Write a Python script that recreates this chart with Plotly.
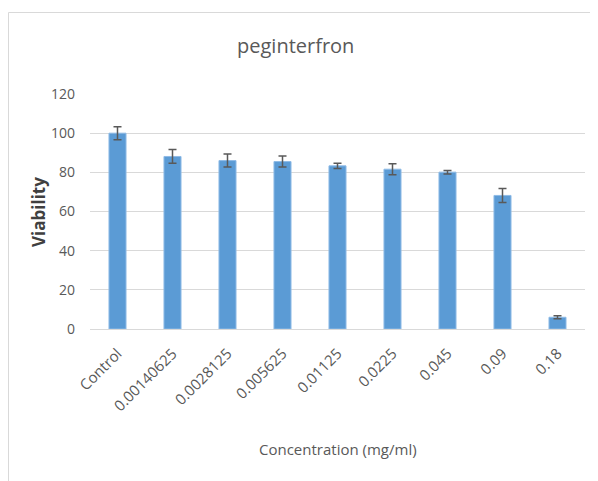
import plotly.graph_objects as go

categories = ["Control", "0.00140625", "0.0028125", "0.005625", "0.01125",
              "0.0225", "0.045", "0.09", "0.18"]
viability = [100.0, 88.1, 86.0, 85.5, 83.3, 81.6, 80.1, 68.2, 6.0]
errors = [3.3, 3.5, 3.3, 2.8, 1.4, 2.8, 0.9, 3.6, 0.8]
y_ticks = [0, 20, 40, 60, 80, 100, 120]

# page body has an 8px margin; figure drawn so it lands where the reference is
OFF = 8
W, H = 598 - OFF, 481 - OFF
L, R, T, B = 90 - OFF, 13, 94 - OFF, 152
pw, ph = W - L - R, H - T - B

def px(x):
    return (x - OFF - L) / pw

def py(y):
    return (H - B - (y - OFF)) / ph

font = "Open Sans"

fig = go.Figure()
fig.add_trace(go.Bar(
    x=categories, y=viability,
    marker=dict(color="#5b9bd5", line=dict(color="#8fbbe6", width=1)),
    width=0.31,
    error_y=dict(type="data", array=errors, visible=True,
                 color="#595959", thickness=1.5, width=4),
))

fig.update_layout(
    width=W, height=H,
    margin=dict(l=L, r=R, t=T, b=B),
    paper_bgcolor="white", plot_bgcolor="white",
    showlegend=False,
    font=dict(family=font, color="#595959"),
    xaxis=dict(
        tickangle=-45, tickfont=dict(size=15, color="#595959", family=font),
        showline=True, linecolor="#d9d9d9", linewidth=1,
        showgrid=False, ticks="", ticklabelstandoff=9,
    ),
    yaxis=dict(
        range=[0, 120], tickvals=y_ticks, ticks="",
        tickfont=dict(size=14, color="#595959", family=font),
        showgrid=True, gridcolor="#d9d9d9", gridwidth=1,
        zeroline=False, showline=False, ticklabelstandoff=14,
    ),
    shapes=[dict(type="rect", xref="paper", yref="paper",
                 x0=px(8.5), x1=px(620), y0=py(500), y1=py(12.5),
                 line=dict(color="#d9d9d9", width=1), fillcolor="rgba(0,0,0,0)",
                 layer="below")],
    annotations=[
        dict(text="peginterfron", x=px(295), y=py(45), xref="paper", yref="paper",
             showarrow=False, font=dict(size=20, color="#595959", family=font),
             xanchor="center", yanchor="middle"),
        dict(text="Concentration (mg/ml)", x=px(338), y=py(449), xref="paper", yref="paper",
             showarrow=False, font=dict(size=15, color="#595959", family=font),
             xanchor="center", yanchor="middle"),
        dict(text="<b>Viability</b>", x=px(38), y=py(212), xref="paper", yref="paper",
             showarrow=False, textangle=-90,
             font=dict(size=17, color="#404040", family=font),
             xanchor="center", yanchor="middle"),
    ],
)

fig.write_html("out.html")
